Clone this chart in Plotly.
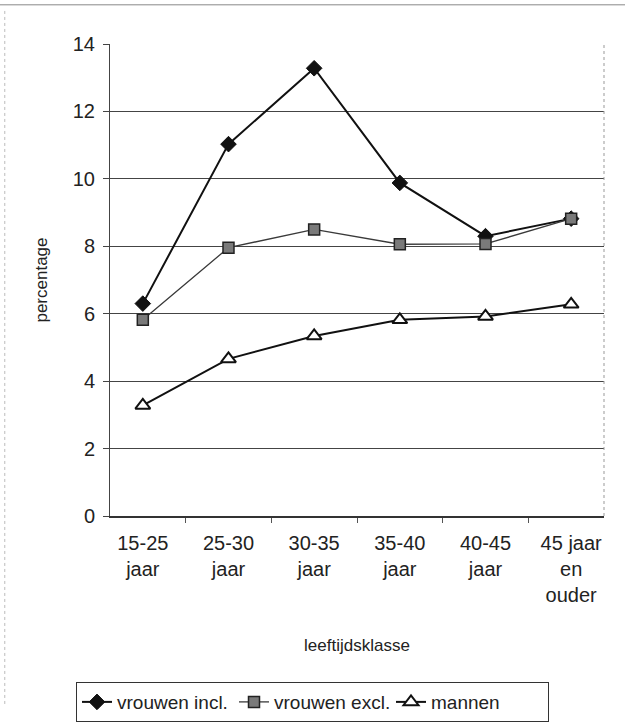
import plotly.graph_objects as go

categories = ["15-25<br>jaar", "25-30<br>jaar", "30-35<br>jaar", "35-40<br>jaar", "40-45<br>jaar", "45 jaar<br>en<br>ouder"]
vrouwen_incl = [6.3, 11.03, 13.28, 9.88, 8.3, 8.82]
vrouwen_excl = [5.82, 7.96, 8.5, 8.06, 8.07, 8.82]
mannen = [3.28, 4.66, 5.34, 5.82, 5.92, 6.28]
y_ticks = [0, 2, 4, 6, 8, 10, 12, 14]

FONT = "Liberation Sans, Arial, sans-serif"

fig = go.Figure()
fig.add_trace(go.Scatter(
    x=categories, y=vrouwen_incl, name="vrouwen incl.", mode="lines+markers",
    line=dict(color="#111111", width=2),
    marker=dict(symbol="diamond", size=12, color="#111111", line=dict(color="#111111", width=1)),
))
fig.add_trace(go.Scatter(
    x=categories, y=vrouwen_excl, name="vrouwen excl.", mode="lines+markers",
    line=dict(color="#3a3a3a", width=1.3),
    marker=dict(symbol="square", size=11, color="#7a7a7a", line=dict(color="#222222", width=1.5)),
))
fig.add_trace(go.Scatter(
    x=categories, y=mannen, name="mannen", mode="lines+markers",
    line=dict(color="#111111", width=2),
    marker=dict(symbol="triangle-up", size=13, color="white", line=dict(color="#111111", width=2)),
))

fig.update_layout(
    width=625, height=726,
    margin=dict(l=110, r=21, t=44, b=210),
    paper_bgcolor="white", plot_bgcolor="white",
    font=dict(family=FONT, size=20, color="#222222"),
    showlegend=True,
    legend=dict(
        orientation="h", xref="container", yref="container",
        x=0.5, y=0.033, xanchor="center", yanchor="middle",
        bordercolor="#333333", borderwidth=1, bgcolor="white",
        font=dict(size=19), entrywidth=112, tracegroupgap=0,
    ),
    shapes=[
        dict(type="line", xref="paper", yref="paper", x0=-0.223, x1=1.05, y0=1.083, y1=1.083,
             line=dict(color="#888888", width=1)),
        dict(type="line", xref="paper", yref="paper", x0=-0.213, x1=-0.213, y0=1.07, y1=-0.4,
             line=dict(color="#bbbbbb", width=1, dash="dot")),
        dict(type="line", xref="paper", yref="paper", x0=1, x1=1, y0=0, y1=1,
             line=dict(color="#999999", width=1, dash="dot")),
    ],
)
fig.update_xaxes(
    type="category", showgrid=False, showline=True, linecolor="#333333", linewidth=1.5,
    mirror=False, ticks="outside", tickson="boundaries", ticklen=5, tickcolor="#555555",
    tickfont=dict(size=20), ticklabelstandoff=8,
    title=dict(text="leeftijdsklasse", font=dict(size=17), standoff=34),
)
fig.update_yaxes(
    range=[0, 14], tickvals=y_ticks, showgrid=True, gridcolor="#444444", gridwidth=1,
    showline=True, linecolor="#444444", linewidth=1, ticks="outside", ticklen=6,
    tickcolor="#444444", tickfont=dict(size=20), zeroline=False, ticklabelstandoff=4,
    title=dict(text="percentage", font=dict(size=17), standoff=20),
)

fig.write_html("out.html")
